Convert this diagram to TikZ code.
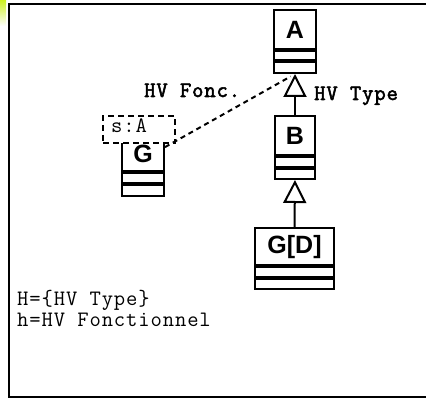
\documentclass[tikz,border=0pt]{standalone}
\usepackage{fontspec}
\setmainfont{Liberation Sans}
\newfontfamily\cmono[LetterSpace=4]{Latin Modern Mono}
\newfontfamily\cmonob[LetterSpace=4, FakeBold=2.5]{Latin Modern Mono}
\usetikzlibrary{arrows.meta}
\definecolor{glow}{HTML}{CCF020}
\begin{document}
\begin{tikzpicture}[x=1pt,y=-1pt,
  namebox/.style={draw, line width=2pt, inner sep=0pt, fill=white,
    font=\bfseries\fontsize{25}{25}\selectfont},
  compbox/.style={draw, line width=2pt, inner sep=0pt, anchor=north},
  mono/.style={inner sep=0pt, anchor=base west, font=\cmono\fontsize{22}{24}\selectfont},
  monob/.style={mono, font=\cmonob\fontsize{22}{24}\selectfont},
  inherit/.style={line width=2pt, -{Triangle[open, length=23pt, width=23pt, fill=white]}},
  realize/.style={line width=2pt, dash pattern=on 5pt off 4pt},
  tplbox/.style={draw, line width=2pt, dash pattern=on 6pt off 4pt, fill=white, inner sep=0pt, anchor=north west}]
\useasboundingbox (0,0) rectangle (426,398);
\shade[top color=glow, bottom color=white] (0,0) rectangle (6,26);
\draw[line width=2.5pt] (430,4) -- (9,4) -- (9,397) -- (430,397);

% class A
\node[namebox, minimum width=42pt, minimum height=39pt] (A) at (295,29.5) {A};
\node[compbox, minimum width=42pt, minimum height=9.5pt] (A1) at (A.south) {};
\node[compbox, minimum width=42pt, minimum height=10.5pt] (A2) at (A1.south) {};

% class B
\node[namebox, minimum width=40pt, minimum height=39pt] (B) at (295,135.5) {B};
\node[compbox, minimum width=40pt, minimum height=10pt] (B1) at (B.south) {};
\node[compbox, minimum width=40pt, minimum height=10pt] (B2) at (B1.south) {};

% class G[D]
\node[namebox, minimum width=79pt, minimum height=37.5pt] (GD) at (294.5,246.75) {G[D]};
\node[compbox, minimum width=79pt, minimum height=10pt] (GD1) at (GD.south) {};
\node[compbox, minimum width=79pt, minimum height=10pt] (GD2) at (GD1.south) {};

% class G
\node[namebox, minimum width=42pt, minimum height=29.5pt] (G) at (143,156) {\raisebox{4pt}{G}};
\node[compbox, minimum width=42pt, minimum height=10pt] (G1) at (G.south) {};
\node[compbox, minimum width=42pt, minimum height=11pt] (G2) at (G1.south) {};

% template parameter box
\node[tplbox, minimum width=72pt, minimum height=27pt] (tpl) at (102,115) {};
\node[mono] (sa) at (111,133) {s:A};

% connectors
\draw[realize, shorten >=5pt] (G.22) -- (A2.south);
\draw[inherit] (B.north) -- (A2.south);
\draw[inherit] (GD.north) -- (B2.south);

% labels
\node[monob] (hvf) at (144,97) {HV Fonc.};
\node[monob] (hvt) at (314,100) {HV Type};
\node[mono] (l1) at (17,305.5) {H=\{HV Type\}};
\node[mono] (l2) at (17,326.5) {h=HV Fonctionnel};
\end{tikzpicture}
\end{document}
